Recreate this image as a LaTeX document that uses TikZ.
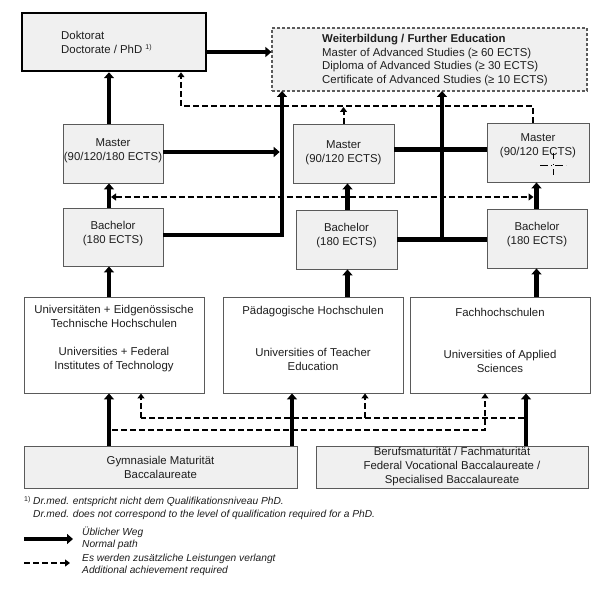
\documentclass[tikz,border=0pt]{standalone}
\usepackage{fontspec}
\setmainfont{Liberation Sans}
\usetikzlibrary{arrows.meta}
\definecolor{boxfill}{HTML}{F0F0F0}
\definecolor{boxline}{HTML}{5A5A5A}
\definecolor{txtc}{HTML}{1E1E1E}
\begin{document}
\begin{tikzpicture}[x=1pt,y=-1pt,
  graybox/.style={draw=boxline, line width=0.9pt, fill=boxfill, inner sep=0pt},
  whitebox/.style={graybox, fill=white},
  lbl/.style={inner sep=0pt, text=txtc, align=center, font=\fontsize{11.4}{14}\selectfont},
  small/.style={inner sep=0pt, text=txtc, align=left, font=\fontsize{10.2}{12.2}\selectfont\itshape},
  normal/.style={line width=4.5pt, -{Triangle[width=10pt,length=6pt]}},
  normalline/.style={line width=4.5pt},
  extra/.style={line width=2pt, dash pattern=on 6pt off 3pt, -{Triangle[width=7pt,length=5pt]}},
  extraline/.style={line width=2pt, dash pattern=on 6pt off 3pt},
]
\useasboundingbox (0,0) rectangle (612,588);
\fill[white] (0,0) rectangle (612,588);

% boxes
\node[graybox, draw=black, line width=2.5pt, minimum width=184pt, minimum height=58pt] (dok) at (114,42) {};
\node[lbl, anchor=west, align=left] (dokt) at (61,42) {Doktorat\\Doctorate / PhD \textsuperscript{\scriptsize 1)}};
\node[graybox, draw=boxline, line width=1.2pt, dash pattern=on 3pt off 2pt, minimum width=315pt, minimum height=63pt] (wb) at (429.5,59.5) {};
\node[lbl, anchor=west, align=left, font=\fontsize{11.4}{13.7}\selectfont] (wbt) at (322,60) {\textbf{Weiterbildung / Further Education}\\Master of Advanced Studies (≥ 60 ECTS)\\Diploma of Advanced Studies (≥ 30 ECTS)\\Certificate of Advanced Studies (≥ 10 ECTS)};

\node[graybox, minimum width=100pt, minimum height=59pt] (m1) at (113,153.5) {};
\node[lbl] (m1t) at ([yshift=3pt]m1.center) {Master\\(90/120/180 ECTS)};
\node[graybox, minimum width=101pt, minimum height=59pt] (m2) at (343.5,153.5) {};
\node[lbl] (m2t) at ([yshift=1pt]m2.center) {Master\\(90/120 ECTS)};
\node[graybox, minimum width=102pt, minimum height=59pt] (m3) at (538,152.5) {};
\node[lbl] (m3t) at ([yshift=7pt]m3.center) {Master\\(90/120 ECTS)};

\node[graybox, minimum width=100pt, minimum height=58pt] (b1) at (113,237) {};
\node[lbl] (b1t) at ([yshift=3pt]b1.center) {Bachelor\\(180 ECTS)};
\node[graybox, minimum width=101pt, minimum height=59pt] (b2) at (346.5,239.5) {};
\node[lbl] (b2t) at ([yshift=3.5pt]b2.center) {Bachelor\\(180 ECTS)};
\node[graybox, minimum width=100pt, minimum height=59pt] (b3) at (537,238.5) {};
\node[lbl] (b3t) at ([yshift=3.5pt]b3.center) {Bachelor\\(180 ECTS)};

\node[whitebox, minimum width=180pt, minimum height=96pt] (uni) at (114,345) {};
\node[lbl] (unit) at ([yshift=6.5pt]uni.center) {Universitäten + Eidgenössische\\Technische Hochschulen\\[14pt]Universities + Federal\\Institutes of Technology};
\node[whitebox, minimum width=180pt, minimum height=96pt] (paed) at (313,345) {};
\node[lbl] (paedt) at ([yshift=6.5pt]paed.center) {Pädagogische Hochschulen\\[28pt]Universities of Teacher\\Education};
\node[whitebox, minimum width=180pt, minimum height=96pt] (fh) at (500,345) {};
\node[lbl] (fht) at ([yshift=5pt]fh.center) {Fachhochschulen\\[28pt]Universities of Applied\\Sciences};

\node[graybox, minimum width=273pt, minimum height=42pt] (gym) at (160.5,467) {};
\node[lbl] (gymt) at (gym.center) {Gymnasiale Maturität\\Baccalaureate};
\node[graybox, minimum width=272pt, minimum height=42pt] (beruf) at (452,467) {};
\node[lbl] (beruft) at (beruf.center) {Berufsmaturität / Fachmaturität\\Federal Vocational Baccalaureate /\\Specialised Baccalaureate};

% column coordinates
\coordinate (x1) at (109,0);
\coordinate (x2) at (347.5,0);
\coordinate (x3) at (536.5,0);
\coordinate (xg) at (292,0);
\coordinate (xb) at (526,0);
\coordinate (vA) at (282,91);
\coordinate (vB) at (442,91);

% thick connectors
\draw[normal] ([yshift=-10pt]dok.east) -- ([yshift=-10pt]dok.east -| wb.west);
\draw[normal] (m1.north -| x1) -- (dok.south -| x1);
\draw[normal] (b1.north -| x1) -- (m1.south -| x1);
\draw[normal] (uni.north -| x1) -- (b1.south -| x1);
\draw[normal] (gym.north -| x1) -- (uni.south -| x1);
\draw[normal] (paed.north -| x2) -- (b2.south -| x2);
\draw[normal] (b2.north -| x2) -- (m2.south -| x2);
\draw[normal] (gym.north -| xg) -- (paed.south -| xg);
\draw[normal] (fh.north -| x3) -- (b3.south -| x3);
\draw[normal] (b3.north -| x3) -- (m3.south -| x3);
\draw[normal] (beruf.north -| xb) -- (fh.south -| xb);

\draw[normal] ([yshift=2pt]b1.east) -| (vA);
\draw[normal, shorten >=2.3pt] ([yshift=1.5pt]m1.east) -- ([yshift=1.5pt]m1.east -| vA);
\draw[normalline] ([yshift=4pt]m2.east) -- ([yshift=4pt]m2.east -| m3.west);
\draw[normalline] (b2.east) -- (b2.east -| b3.west);
\draw[normal] (b2.east -| vB) -- (vB);

% dashed connectors
\coordinate (dA) at (533,106);
\coordinate (dB) at (181,106);
\draw[extra] (m3.north -| dA) -- (dA) -- (dB) -- (dB |- dok.south);
\draw[extra, shorten >=1pt] (m2.north) -- (m2.north |- dA);
\coordinate (dL) at (111,197);
\coordinate (dR) at (533.5,197);
\draw[extraline, {Triangle[width=7pt,length=5pt]}-{Triangle[width=7pt,length=5pt]}] (dL) -- (dR);

\coordinate (u1) at (141,418);
\coordinate (u2) at (365,418);
\coordinate (u3) at (524,418);
\draw[extraline] (u3) -- (u1);
\draw[extra] (u1) -- (u1 |- uni.south);
\draw[extra] (u2) -- (u2 |- paed.south);
\coordinate (l1) at (112,430);
\coordinate (l2) at (485,430);
\draw[extra] (l1) -- (l2) -- (l2 |- fh.south);

% mark inside Master 3
\draw[line width=1pt, dash pattern=on 8pt off 3pt on 1pt off 3pt] (540,165) -- (566,165);
\draw[line width=1pt, dash pattern=on 6pt off 5pt on 1pt off 4pt] (553,153) -- (553,178);

% footnote
\node[small, anchor=north west] (fn) at (24,496) {\makebox[9pt][l]{\upshape\textsuperscript{\scriptsize 1)}}Dr.med. entspricht nicht dem Qualifikationsniveau PhD.\\\hspace*{9pt}Dr.med. does not correspond to the level of qualification required for a PhD.};

% legend
\coordinate (lg1) at (24,539);
\coordinate (lg2) at (73,539);
\draw[normal] (lg1) -- (lg2);
\node[small, anchor=west] (lgt1) at (82,538) {Üblicher Weg\\Normal path};
\coordinate (lg3) at (24,563);
\coordinate (lg4) at (70,563);
\draw[extra] (lg3) -- (lg4);
\node[small, anchor=west] (lgt2) at (82,565) {Es werden zusätzliche Leistungen verlangt\\Additional achievement required};
\end{tikzpicture}
\end{document}
